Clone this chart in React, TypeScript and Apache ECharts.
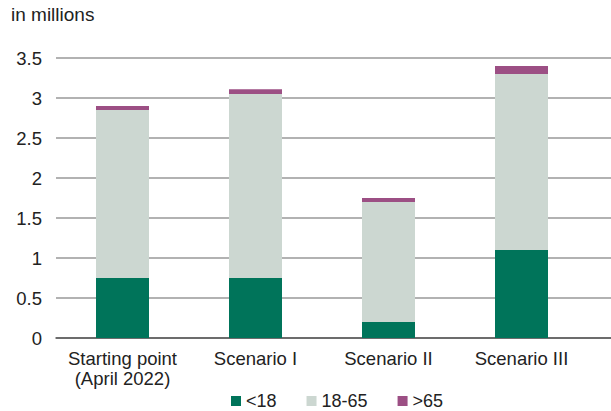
import React, { useEffect, useRef } from "react";
import * as echarts from "echarts";

const categories = ["Starting point\n(April 2022)", "Scenario I", "Scenario II", "Scenario III"];
const under18 = [0.75, 0.75, 0.2, 1.1];
const age18to65 = [2.1, 2.3, 1.5, 2.2];
const over65 = [0.05, 0.06, 0.05, 0.1];
const seriesNames = ["<18", "18-65", ">65"];
const colors = ["#00745a", "#ccd7d1", "#9c4f84"];

const FONT = "'Liberation Sans', Arial, Helvetica, sans-serif";
const FS = 18.5;

export default function App() {
  const ref = useRef<HTMLDivElement>(null);

  useEffect(() => {
    document.body.style.margin = "0";
    if (!ref.current) return;
    const chart = echarts.init(ref.current, undefined, { renderer: "svg" });
    const values = [under18, age18to65, over65];
    chart.setOption({
      animation: false,
      textStyle: { fontFamily: FONT },
      title: {
        text: "in millions",
        left: 11,
        top: 5,
        padding: 0,
        textStyle: { fontFamily: FONT, fontSize: 19, fontWeight: "normal", color: "#222" },
      },
      legend: {
        left: 231,
        top: 392,
        padding: 0,
        itemWidth: 10,
        itemHeight: 10,
        itemGap: 30,
        icon: "rect",
        textStyle: { fontFamily: FONT, fontSize: 18, color: "#222" },
        data: seriesNames,
      },
      grid: [
        // full-width grid carrying the horizontal gridlines and the value labels
        { left: 56, right: 0, top: 58, bottom: 73 },
        // narrower grid holding the bars
        { left: 56, right: 23, top: 58, bottom: 73 },
      ],
      xAxis: [
        {
          type: "category",
          gridIndex: 0,
          data: [""],
          axisLine: { show: true, lineStyle: { color: "#555", width: 1.5 } },
          axisTick: { show: false },
          axisLabel: { show: false },
        },
        {
          type: "category",
          gridIndex: 1,
          data: categories,
          axisLine: { show: false },
          axisTick: { show: false },
          axisLabel: {
            fontFamily: FONT,
            fontSize: FS,
            color: "#222",
            lineHeight: 20,
            margin: 10,
            interval: 0,
          },
        },
      ],
      yAxis: [
        {
          type: "value",
          gridIndex: 0,
          min: 0,
          max: 3.5,
          interval: 0.5,
          axisLine: { show: false },
          axisTick: { show: false },
          axisLabel: { fontFamily: FONT, fontSize: FS, color: "#222", margin: 14 },
          splitLine: { lineStyle: { color: "#999", width: 1.5 } },
        },
        {
          type: "value",
          gridIndex: 1,
          min: 0,
          max: 3.5,
          interval: 0.5,
          show: false,
          splitLine: { show: false },
        },
      ],
      series: seriesNames.map((name, i) => ({
        name,
        type: "bar",
        xAxisIndex: 1,
        yAxisIndex: 1,
        stack: "total",
        barWidth: 53,
        data: values[i],
        itemStyle: { color: colors[i] },
      })),
    });
    return () => chart.dispose();
  }, []);

  return <div ref={ref} style={{ width: 611, height: 411 }} />;
}
